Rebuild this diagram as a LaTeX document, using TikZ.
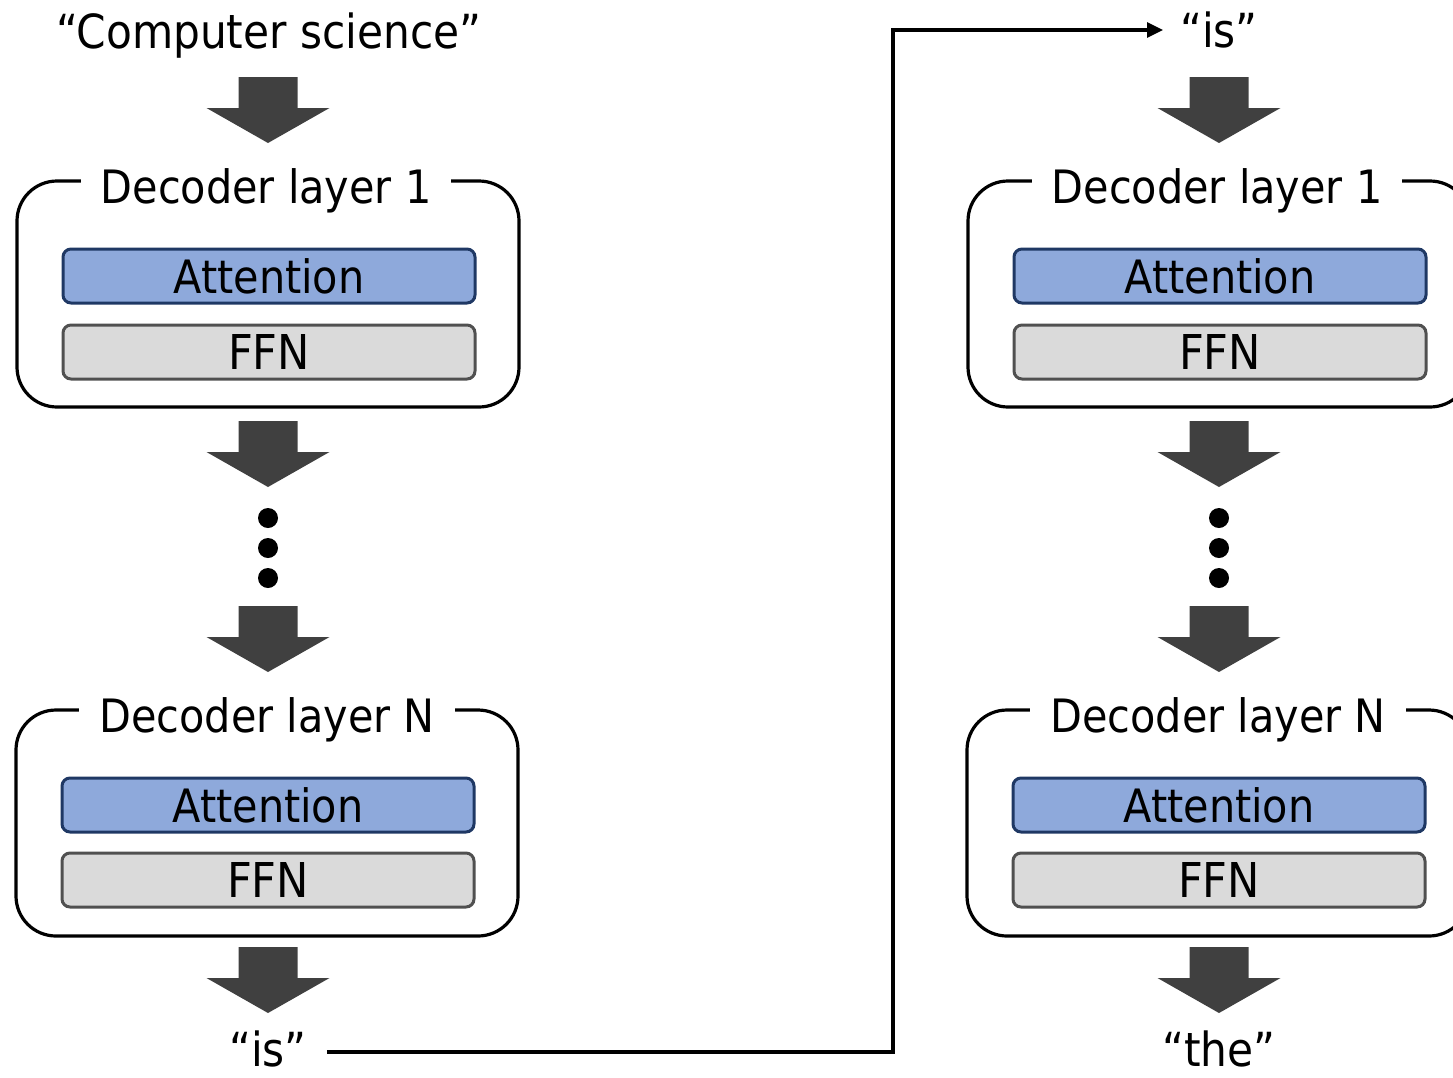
\documentclass[tikz,border=0pt]{standalone}
\usepackage{fontspec}
\setmainfont{DejaVu Sans Condensed}
\usetikzlibrary{arrows.meta}
\definecolor{attnblue}{HTML}{8EA9DB}
\definecolor{attnedge}{HTML}{1F3864}
\definecolor{ffngray}{HTML}{DADADA}
\definecolor{ffnedge}{HTML}{505050}
\definecolor{arrowgray}{HTML}{404040}
\tikzset{
  layerbox/.style={draw=black, line width=3.2pt, rounded corners=40pt,
    minimum width=502pt, minimum height=226pt, inner sep=0pt},
  layertitle/.style={fill=white, inner xsep=20pt, inner ysep=0pt, anchor=base,
    font=\fontsize{46}{54}\selectfont},
  attnbox/.style={draw=attnedge, fill=attnblue, line width=3pt, rounded corners=8pt,
    minimum width=412pt, minimum height=54pt, inner sep=0pt,
    font=\fontsize{46}{54}\selectfont},
  ffnbox/.style={draw=ffnedge, fill=ffngray, line width=3pt, rounded corners=8pt,
    minimum width=412pt, minimum height=54pt, inner sep=0pt,
    font=\fontsize{48}{56}\selectfont},
  token/.style={inner sep=0pt, anchor=base, font=\fontsize{47}{55}\selectfont},
  dot/.style={circle, fill=black, minimum size=20pt, inner sep=0pt},
  blockarrow/.pic={
    \fill[arrowgray] (-29.5,0) -- (29.5,0) -- (29.5,31) -- (61.5,31)
      -- (0,66) -- (-61.5,31) -- (-29.5,31) -- cycle;
  },
  feedback/.style={line width=3.2pt, -{Triangle[length=16pt, width=15pt]}},
}
\begin{document}
\begin{tikzpicture}[x=1pt, y=-1pt]
\path[use as bounding box, clip] (0,0) rectangle (1453,1077);

% ---- first decoding step ----
\node[token] (inL) at (269,48) {“Computer science”};
\pic at (268,77) {blockarrow};

\node[layerbox] (L1) at (268,294) {};
\node[layertitle] (L1t) at (266,203) {Decoder layer 1};
\node[attnbox] (L1a) at (269,276) {Attention};
\node[ffnbox] (L1f) at (269,352) {FFN};

\pic at (268,421) {blockarrow};
\node[dot] (Ld1) at (268,518) {};
\node[dot] (Ld2) at (268,548) {};
\node[dot] (Ld3) at (268,578) {};
\pic at (268,606) {blockarrow};

\node[layerbox] (LN) at (267,823) {};
\node[layertitle] (LNt) at (267,732) {Decoder layer N};
\node[attnbox] (LNa) at (268,805) {Attention};
\node[ffnbox] (LNf) at (268,880) {FFN};

\pic at (268,947) {blockarrow};
\node[token] (outL) at (268,1066) {“is”};

% ---- second decoding step ----
\node[token] (inR) at (1219,47) {“is”};
\pic at (1219,77) {blockarrow};

\node[layerbox] (R1) at (1219,294) {};
\node[layertitle] (R1t) at (1217,203) {Decoder layer 1};
\node[attnbox] (R1a) at (1220,276) {Attention};
\node[ffnbox] (R1f) at (1220,352) {FFN};

\pic at (1219,421) {blockarrow};
\node[dot] (Rd1) at (1219,518) {};
\node[dot] (Rd2) at (1219,548) {};
\node[dot] (Rd3) at (1219,578) {};
\pic at (1219,606) {blockarrow};

\node[layerbox] (RN) at (1218,823) {};
\node[layertitle] (RNt) at (1218,732) {Decoder layer N};
\node[attnbox] (RNa) at (1219,805) {Attention};
\node[ffnbox] (RNf) at (1219,880) {FFN};

\pic at (1219,947) {blockarrow};
\node[token] (outR) at (1219,1066) {“the”};

% ---- output token fed back as the next input ----
\coordinate (fbBot) at (893,1052);
\coordinate (fbTop) at (893,30);
\draw[feedback] ([xshift=20pt]outL.east |- fbBot) -- (fbBot) -- (fbTop)
  -- ([xshift=-17pt]inR.west |- fbTop);
\end{tikzpicture}
\end{document}
